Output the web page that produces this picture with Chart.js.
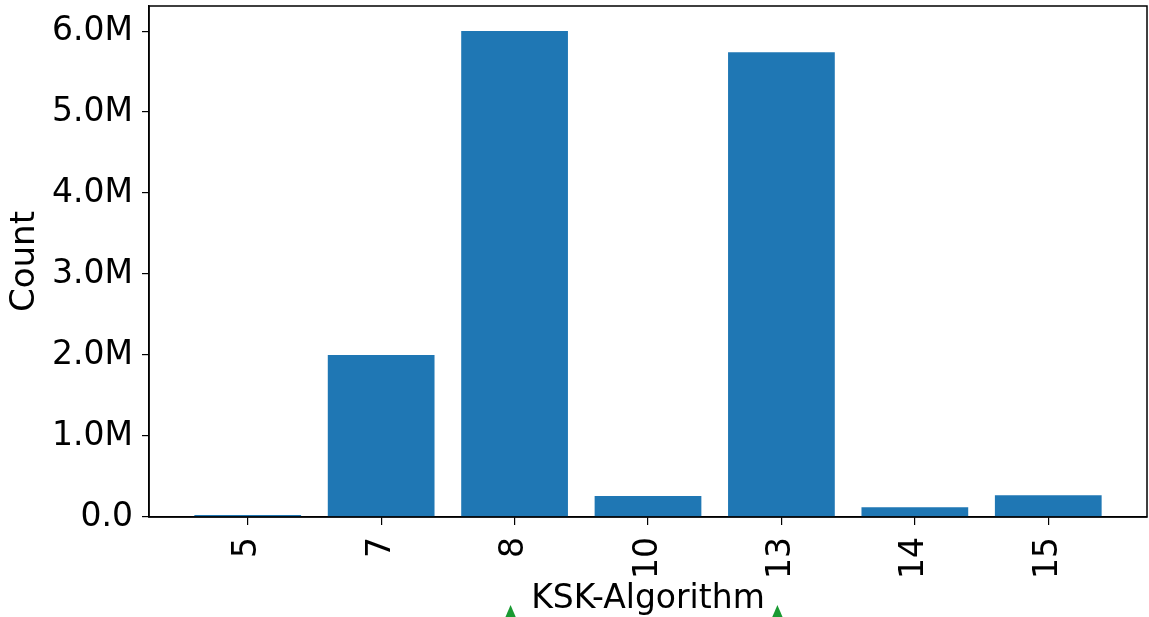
<!DOCTYPE html>
<html>
<head>
<meta charset="utf-8">
<script src="https://cdn.jsdelivr.net/npm/chart.js@4"></script>
<style>
  html, body { margin: 0; padding: 0; background: #fff; }
  #wrap { width: 1149px; height: 617px; }
</style>
</head>
<body>
<div id="wrap"><canvas id="kskChart"></canvas></div>
<script>
const categories = ['5', '7', '8', '10', '13', '14', '15'];
const counts = [25000, 2000000, 6000000, 260000, 5740000, 120000, 270000];
const yTicks = [0, 1000000, 2000000, 3000000, 4000000, 5000000, 6000000];
const markedCategories = ['8', '13'];

const FONT = 'DejaVu Sans';

// box around the plot area, like matplotlib spines
const frame = {
  id: 'frame',
  afterDraw(chart) {
    const { ctx, chartArea: a } = chart;
    ctx.save();
    ctx.strokeStyle = '#000';
    ctx.lineWidth = 1.5;
    ctx.strokeRect(a.left, a.top, a.right - a.left, a.bottom - a.top);
    ctx.restore();
  }
};

// small green triangles under the x label
const markers = {
  id: 'markers',
  afterDraw(chart) {
    const { ctx } = chart;
    const x = chart.scales.x;
    ctx.save();
    ctx.fillStyle = '#1a9a32';
    markedCategories.forEach(c => {
      const px = x.getPixelForValue(categories.indexOf(c)) - 4;
      ctx.beginPath();
      ctx.moveTo(px, 605);
      ctx.lineTo(px - 6, 619);
      ctx.lineTo(px + 6, 619);
      ctx.closePath();
      ctx.fill();
    });
    ctx.restore();
  }
};

new Chart(document.getElementById('kskChart'), {
  type: 'bar',
  data: {
    datasets: [{
      label: 'Count',
      data: counts.map((v, i) => ({ x: i, y: v })),
      backgroundColor: '#1f77b4',
      borderWidth: 0,
      barPercentage: 0.8,
      categoryPercentage: 1.0
    }]
  },
  options: {
    responsive: true,
    maintainAspectRatio: false,
    animation: false,
    layout: { padding: { top: 6, right: 2, left: 0, bottom: 0 } },
    plugins: { legend: { display: false }, tooltip: { enabled: false } },
    scales: {
      x: {
        type: 'linear',
        offset: false,
        min: -0.74,
        max: categories.length - 1 + 0.74,
        afterBuildTicks: s => { s.ticks = categories.map((c, i) => ({ value: i })); },
        afterFit: s => { s.height = 100; s.paddingLeft = 0; s.paddingRight = 0; },
        grid: { offset: false, drawOnChartArea: false, drawTicks: true, tickLength: 8, color: '#000', lineWidth: 1.2 },
        border: { display: true, color: '#000', width: 1.5 },
        ticks: {
          autoSkip: false,
          minRotation: 90,
          maxRotation: 90,
          padding: 12,
          color: '#000',
          font: { family: FONT, size: 33 },
          callback: v => categories[v]
        },
        title: {
          display: true,
          text: 'KSK-Algorithm',
          color: '#000',
          font: { family: FONT, size: 33 },
          padding: { top: 0, bottom: -2 }
        }
      },
      y: {
        min: 0,
        max: 6310000,
        afterBuildTicks: s => { s.ticks = yTicks.map(v => ({ value: v })); },
        afterFit: s => { s.width = 149; s.paddingTop = 0; s.paddingBottom = 0; },
        grid: { drawOnChartArea: false, drawTicks: true, tickLength: 7, color: '#000', lineWidth: 1.2 },
        border: { display: true, color: '#000', width: 1.5 },
        ticks: {
          padding: 9,
          color: '#000',
          font: { family: FONT, size: 33 },
          callback: v => v === 0 ? '0.0' : (v / 1e6).toFixed(1) + 'M'
        },
        title: {
          display: true,
          text: 'Count',
          color: '#000',
          font: { family: FONT, size: 34 },
          padding: { top: 5, bottom: 0 }
        }
      }
    }
  },
  plugins: [frame, markers]
});
</script>
</body>
</html>
